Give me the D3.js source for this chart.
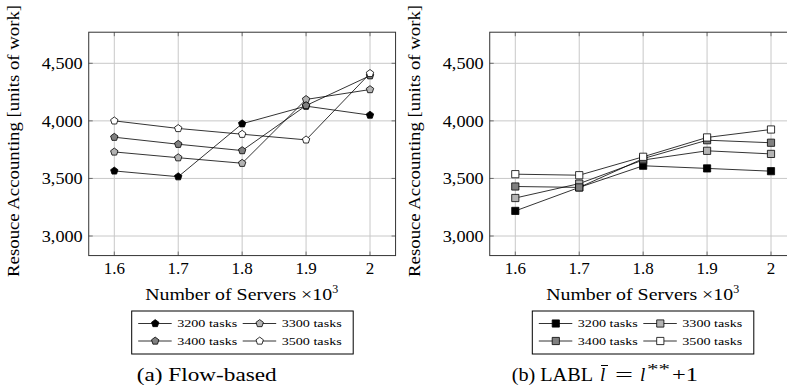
<!DOCTYPE html>
<html>
<head>
<meta charset="utf-8">
<script src="https://cdn.jsdelivr.net/npm/d3@7"></script>
<style>
  html, body { margin: 0; padding: 0; background: #fff; }
  svg text { font-family: "Liberation Serif", "DejaVu Serif", serif; fill: #000; }
</style>
</head>
<body>
<div id="chart"></div>
<script>
// ---------- data ----------
const servers = [1.6, 1.7, 1.8, 1.9, 2.0];
const seriesNames = ['3200 tasks', '3300 tasks', '3400 tasks', '3500 tasks'];
const seriesFills = ['#000000', '#b3b3b3', '#808080', '#ffffff'];

// (a) Flow-based
const flow3200 = [3565, 3515, 3975, 4128, 4050];
const flow3300 = [3730, 3680, 3632, 4186, 4272];
const flow3400 = [3858, 3797, 3742, 4133, 4392];
const flow3500 = [4000, 3934, 3884, 3835, 4412];

// (b) LABL
const labl3200 = [3218, 3422, 3610, 3587, 3563];
const labl3300 = [3330, 3455, 3660, 3740, 3713];
const labl3400 = [3430, 3422, 3672, 3832, 3810];
const labl3500 = [3537, 3528, 3688, 3856, 3925];

const yTicks = [3000, 3500, 4000, 4500];

const W = 787, H = 386;
const svg = d3.select('#chart').append('svg')
  .attr('width', W).attr('height', H)
  .attr('viewBox', `0 0 ${W} ${H}`);

// pentagon symbol (pointing up)
const pentagon = {
  draw(ctx, size) {
    const r = Math.sqrt(size / 2.378);
    for (let i = 0; i < 5; i++) {
      const a = -Math.PI / 2 + i * 2 * Math.PI / 5;
      const x = r * Math.cos(a), y = r * Math.sin(a);
      if (i === 0) ctx.moveTo(x, y); else ctx.lineTo(x, y);
    }
    ctx.closePath();
  }
};

function panel(opts) {
  const { x0, seriesData, symbolType, symbolSize, legendX } = opts;
  const g = svg.append('g');

  const x = d3.scaleLinear().domain([1.6, 2.0]).range([x0, x0 + 255.7]);
  const y = d3.scaleLinear().domain([3000, 4500]).range([236, 63.3]);

  const left = x(1.56), right = x(2.04), top = y(4770), bottom = y(2830);

  g.append('defs').append('clipPath').attr('id', 'clip' + Math.round(x0))
    .append('rect').attr('x', left).attr('y', top)
    .attr('width', right - left).attr('height', bottom - top);

  // grid
  const grid = g.append('g').attr('stroke', '#c8c8c8').attr('stroke-width', 1);
  grid.selectAll('.gx').data(servers).join('line')
    .attr('x1', d => x(d)).attr('x2', d => x(d))
    .attr('y1', top).attr('y2', bottom);
  grid.selectAll('.gy').data(yTicks).join('line')
    .attr('x1', left).attr('x2', right)
    .attr('y1', d => y(d)).attr('y2', d => y(d));

  // ticks (inward, both sides)
  const ticks = g.append('g').attr('stroke', '#555').attr('stroke-width', 0.8);
  servers.forEach(v => {
    ticks.append('line').attr('x1', x(v)).attr('x2', x(v)).attr('y1', bottom).attr('y2', bottom - 4);
    ticks.append('line').attr('x1', x(v)).attr('x2', x(v)).attr('y1', top).attr('y2', top + 4);
  });
  yTicks.forEach(v => {
    ticks.append('line').attr('x1', left).attr('x2', left + 4).attr('y1', y(v)).attr('y2', y(v));
    ticks.append('line').attr('x1', right).attr('x2', right - 4).attr('y1', y(v)).attr('y2', y(v));
  });

  // frame
  g.append('rect')
    .attr('x', left).attr('y', top)
    .attr('width', right - left).attr('height', bottom - top)
    .attr('fill', 'none').attr('stroke', '#333').attr('stroke-width', 1);

  // tick labels
  g.selectAll('.xt').data(servers).join('text')
    .attr('x', d => x(d)).attr('y', 274)
    .attr('text-anchor', 'middle').attr('font-size', 17)
    .text(d => d3.format('~g')(d));
  g.selectAll('.yt').data(yTicks).join('text')
    .attr('x', left - 6).attr('y', d => y(d)).attr('dy', '0.35em')
    .attr('text-anchor', 'end').attr('font-size', 17)
    .attr('textLength', 41).attr('lengthAdjust', 'spacingAndGlyphs')
    .text(d => d3.format(',')(d));

  // axis labels
  const xl = g.append('text')
    .attr('x', (left + right) / 2 - 97).attr('y', 300)
    .attr('font-size', 17);
  xl.append('tspan').attr('textLength', 187).attr('lengthAdjust', 'spacingAndGlyphs')
    .text('Number of Servers \u00d710');
  xl.append('tspan').attr('font-size', 12).attr('dy', -7).text('3');

  g.append('text')
    .attr('transform', `translate(${left - 70},${(top + bottom) / 2 - 3}) rotate(-90)`)
    .attr('text-anchor', 'middle').attr('font-size', 17)
    .attr('textLength', 272).attr('lengthAdjust', 'spacingAndGlyphs')
    .text('Resouce Accounting [units of work]');

  // series
  const line = d3.line().x((d, i) => x(servers[i])).y(d => y(d));
  const plot = g.append('g').attr('clip-path', `url(#clip${Math.round(x0)})`);
  const sym = d3.symbol().type(symbolType).size(symbolSize);

  seriesData.forEach((vals, k) => {
    plot.append('path').datum(vals)
      .attr('d', line).attr('fill', 'none')
      .attr('stroke', '#000').attr('stroke-width', 0.8);
    plot.selectAll('.m' + k).data(vals).join('path')
      .attr('transform', (d, i) => `translate(${x(servers[i])},${y(d)})`)
      .attr('d', sym)
      .attr('fill', seriesFills[k]).attr('stroke', '#000').attr('stroke-width', 0.8);
  });

  // legend
  const lg = g.append('g');
  lg.append('rect')
    .attr('x', legendX).attr('y', 311)
    .attr('width', 221.5).attr('height', 43)
    .attr('fill', '#fff').attr('stroke', '#000').attr('stroke-width', 1);
  seriesNames.forEach((name, k) => {
    const col = k % 2, row = Math.floor(k / 2);
    const lx = legendX + 6.5 + col * 104.5;
    const ly = 323.5 + row * 17.5;
    lg.append('line').attr('x1', lx).attr('x2', lx + 33.5)
      .attr('y1', ly).attr('y2', ly)
      .attr('stroke', '#000').attr('stroke-width', 0.8);
    lg.append('path')
      .attr('transform', `translate(${lx + 17},${ly})`)
      .attr('d', sym)
      .attr('fill', seriesFills[k]).attr('stroke', '#000').attr('stroke-width', 0.8);
    lg.append('text')
      .attr('x', lx + 39).attr('y', ly).attr('dy', '0.35em')
      .attr('font-size', 10).attr('fill', '#222')
      .attr('textLength', 60).attr('lengthAdjust', 'spacingAndGlyphs')
      .text(name);
  });

  return g;
}

const gA = panel({
  x0: 114.3,
  seriesData: [flow3200, flow3300, flow3400, flow3500],
  symbolType: pentagon, symbolSize: 36,
  legendX: 131.7
});
gA.append('text').attr('x', 136.7).attr('y', 381).attr('font-size', 19)
  .attr('textLength', 140).attr('lengthAdjust', 'spacingAndGlyphs')
  .text('(a) Flow-based');

const gB = panel({
  x0: 515.3,
  seriesData: [labl3200, labl3300, labl3400, labl3500],
  symbolType: d3.symbolSquare, symbolSize: 52,
  legendX: 532.3
});
const cap = gB.append('text').attr('y', 381).attr('font-size', 19);
cap.append('tspan').attr('x', 511.7).attr('textLength', 81.3)
  .attr('lengthAdjust', 'spacingAndGlyphs').text('(b) LABL');
cap.append('tspan').attr('x', 600).attr('font-style', 'italic').text('l');
cap.append('tspan').attr('x', 615).attr('textLength', 18)
  .attr('lengthAdjust', 'spacingAndGlyphs').text('=');
cap.append('tspan').attr('x', 640).attr('font-style', 'italic').text('l');
cap.append('tspan').attr('x', 647).attr('dy', -7).attr('font-size', 14)
  .attr('textLength', 23).attr('lengthAdjust', 'spacingAndGlyphs').text('**');
cap.append('tspan').attr('x', 672).attr('dy', 7).attr('textLength', 26)
  .attr('lengthAdjust', 'spacingAndGlyphs').text('+1');
// bar over the l
gB.append('line').attr('x1', 601).attr('x2', 608).attr('y1', 365.5).attr('y2', 365.5)
  .attr('stroke', '#000').attr('stroke-width', 1);
</script>
</body>
</html>
